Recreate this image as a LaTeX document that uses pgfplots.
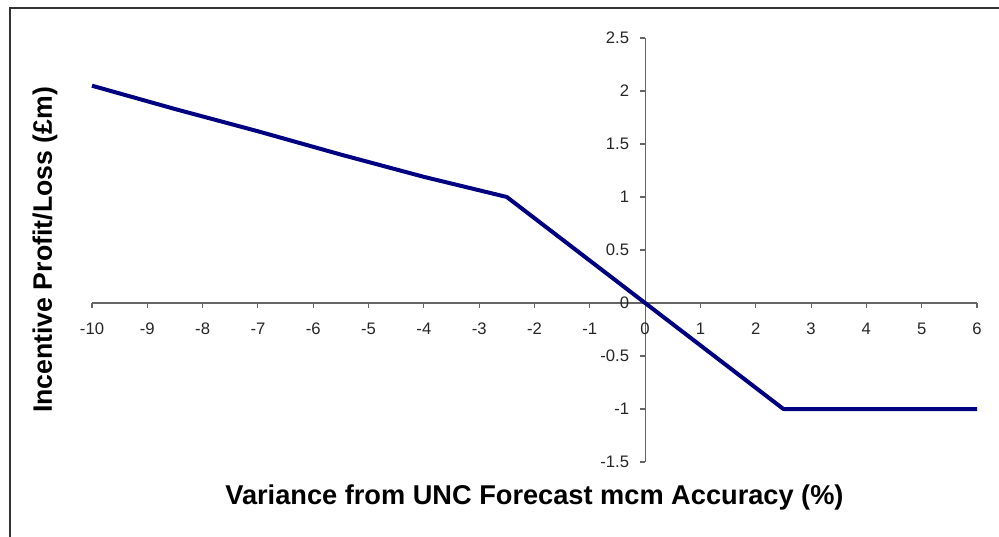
\documentclass[border=0pt]{standalone}
\usepackage{pgfplots}
\pgfplotsset{compat=1.18}
\usepackage{fontspec}
\setmainfont{Liberation Sans}
\definecolor{navyline}{HTML}{000080}
\definecolor{axgray}{HTML}{666666}
\begin{document}
\begin{tikzpicture}
\begin{axis}[
  scale only axis,
  width=663.75pt, height=318pt,
  axis lines=middle,
  xmin=-10, xmax=6, ymin=-1.5, ymax=2.5,
  xtick={-10,-9,...,6},
  ytick={-1.5,-1,-0.5,0,0.5,1,1.5,2,2.5},
  hide obscured x ticks=false,
  hide obscured y ticks=false,
  tick align=outside,
  major tick length=4pt,
  axis line style={axgray, line width=0.9pt, -},
  every tick/.style={axgray, line width=0.8pt},
  tick label style={font=\fontsize{12.5}{14}\selectfont, text=black!85},
  /pgf/number format/assume math mode=true,
  xticklabel style={anchor=north, yshift=-7.5pt},
  yticklabel style={anchor=east, xshift=-4.5pt},
  every axis x label/.style={at={(rel axis cs:0.5,0)}, anchor=center, yshift=-26.25pt, font=\fontsize{20.4}{24}\selectfont\bfseries},
  every axis y label/.style={at={(rel axis cs:0,0.5)}, anchor=center, rotate=90, yshift=35.25pt, font=\fontsize{20}{24}\selectfont\bfseries},
  xlabel={Variance from UNC Forecast mcm Accuracy (\%)},
  ylabel={Incentive Profit/Loss (£m)},
  clip=false,
]
\addplot[navyline, line width=3pt, line join=round] coordinates {
  (-10,2.05) (-8.5,1.83) (-7,1.62) (-5.5,1.40) (-4,1.19) (-2.5,1.0)
  (0,0) (2.5,-1) (6,-1)
};
\coordinate (LL) at (rel axis cs:0,0);
\end{axis}
\useasboundingbox ([shift={(-69pt,-55.5pt)}]LL) rectangle ([shift={(680.25pt,346.5pt)}]LL);
\draw[black!80, line width=1pt] ([shift={(-61.5pt,-60pt)}]LL) -- ([shift={(-61.5pt,340.5pt)}]LL) -- ([shift={(690pt,340.5pt)}]LL);
\end{tikzpicture}
\end{document}
